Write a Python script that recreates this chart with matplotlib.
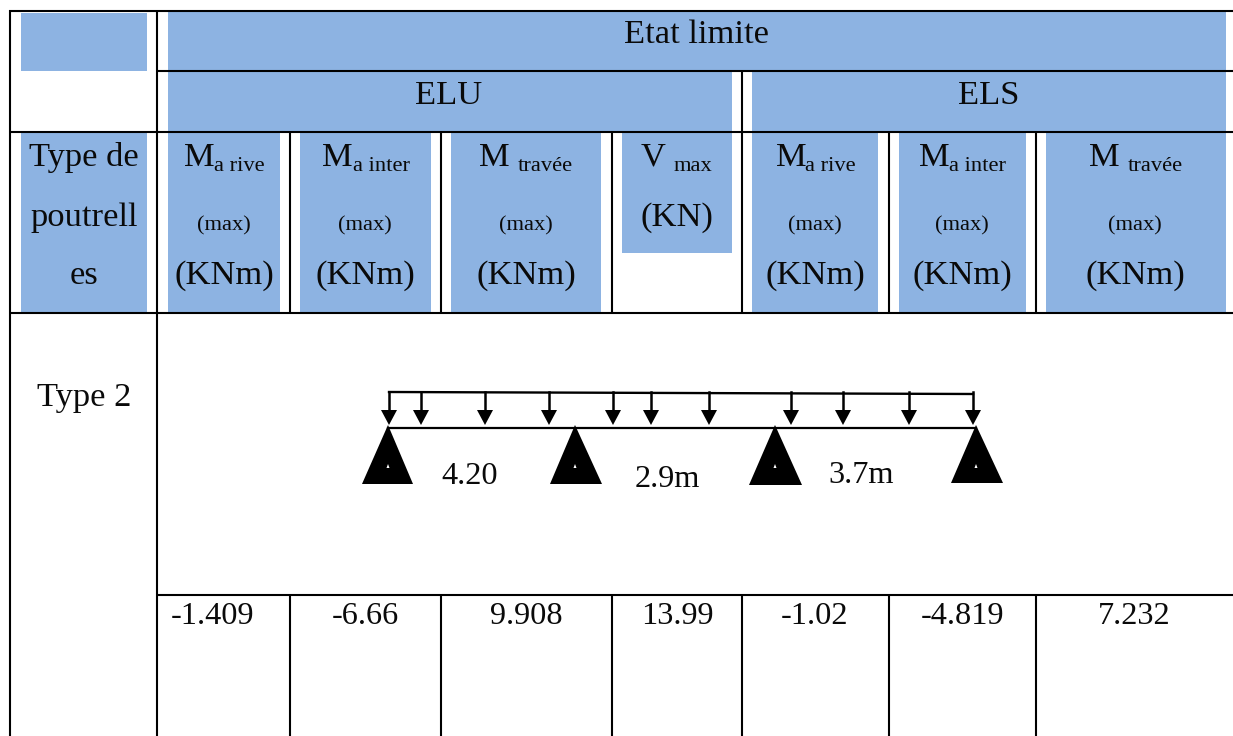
import matplotlib
matplotlib.use("Agg")
import matplotlib.pyplot as plt
from matplotlib.patches import Rectangle, Polygon

# ---- content ----
title = "Etat limite"
group_labels = ["ELU", "ELS"]
first_header = ["Type de", "poutrell", "es"]
col_main = ["M", "M", "M", "V", "M", "M", "M"]
col_sub = ["a rive", "a inter", "travée", "max", "a rive", "a inter", "travée"]
col_mid = ["(max)", "(max)", "(max)", None, "(max)", "(max)", "(max)"]
col_unit = ["(KNm)", "(KNm)", "(KNm)", "(KN)", "(KNm)", "(KNm)", "(KNm)"]
row_label = "Type 2"
row_values = ["-1.409", "-6.66", "9.908", "13.99", "-1.02", "-4.819", "7.232"]
span_labels = ["4.20", "2.9m", "3.7m"]

# ---- layout (pixels) ----
W, H = 1233, 736
BLUE = "#8DB3E2"
col_center = [224, 365, 526, 677, 815, 962, 1135]
main_x = [184, 322, 479, 641, 776, 919, 1089]
sub_x = [214, 353, 518, 674, 805, 949, 1128]
unit_baseline = [284, 284, 284, 226, 284, 284, 284]
value_center = [213, 365, 526, 677, 815, 962, 1134]
blue_rects = [
    (21, 13, 147, 71), (168, 12, 1226, 70), (168, 72, 732, 131), (752, 72, 1226, 131),
    (21, 133, 147, 312), (168, 133, 280, 312), (300, 133, 431, 312), (451, 133, 601, 312),
    (622, 133, 732, 253), (752, 133, 878, 312), (899, 133, 1026, 312), (1046, 133, 1226, 312),
]
h_lines = [(9, 1233, 10.5), (157, 1233, 71), (9, 1233, 131.7), (9, 1233, 313), (157, 1233, 595)]
v_lines = [
    (9.5, 10, 736), (157, 10, 736), (742, 71, 313),
    (290, 132, 313), (441, 132, 313), (612, 132, 313), (889, 132, 313), (1036, 132, 313),
    (290, 595, 736), (441, 595, 736), (612, 595, 736), (742, 595, 736), (889, 595, 736), (1036, 595, 736),
]
arrow_x = [389, 421, 485, 549, 613, 651, 709, 791, 843, 909, 973]
supports = [(388, 362, 413, 484), (575, 550, 602, 484), (775, 749, 802, 485), (976, 951, 1003, 483)]
span_pos = [(470, 484), (667, 487), (861, 483)]

plt.rcParams["font.family"] = ["Liberation Serif", "DejaVu Serif"]
fig = plt.figure(figsize=(W / 100, H / 100), dpi=100, facecolor="white")
ax = fig.add_axes([0, 0, 1, 1])
ax.set_xlim(0, W)
ax.set_ylim(H, 0)
ax.axis("off")

FS = 24.8
FS_VALUE = 23.3
FS_SMALL = 16.2

for x0, y0, x1, y1 in blue_rects:
    ax.add_patch(Rectangle((x0, y0), x1 - x0, y1 - y0, fc=BLUE, ec="none", zorder=1))

for x0, x1, y in h_lines:
    ax.plot([x0, x1], [y, y], color="black", lw=1.5, solid_capstyle="butt", zorder=2)
for x, y0, y1 in v_lines:
    ax.plot([x, x], [y0, y1], color="black", lw=1.5, solid_capstyle="butt", zorder=2)


def put(x, y, s, size=FS, ha="center"):
    ax.text(x, y, s, fontsize=size, ha=ha, va="baseline", color="#0a0a0a", zorder=5)


put(697, 43, title)
put(449, 104, group_labels[0])
put(989, 104, group_labels[1])
for y, s in zip([166, 226, 284], first_header):
    put(84, y, s)

for i in range(7):
    put(main_x[i], 166, col_main[i], ha="left")
    put(sub_x[i], 171, col_sub[i], size=FS_SMALL, ha="left")
    if col_mid[i]:
        put(col_center[i], 230, col_mid[i], size=FS_SMALL)
    put(col_center[i], unit_baseline[i], col_unit[i])
    put(value_center[i], 624.5, row_values[i], size=FS_VALUE)

put(84, 406, row_label)

# beam diagram
ax.plot([arrow_x[0], arrow_x[-1]], [392, 394], color="black", lw=1.7, zorder=3)
ax.plot([388, 976], [428, 428], color="black", lw=1.6, zorder=3)
for x in arrow_x:
    ax.plot([x, x], [392, 411], color="black", lw=1.8, zorder=3)
    ax.add_patch(Polygon([(x - 8, 410), (x + 8, 410), (x, 425)], fc="black", ec="none", zorder=3))
for apex, left, right, base in supports:
    ax.add_patch(Polygon([(apex, 425), (right, base), (left, base)], fc="black", ec="none", zorder=3))
    ax.add_patch(Polygon([(apex - 1.5, 468), (apex + 1.5, 468), (apex, 464)], fc="white", ec="none", zorder=4))
for (x, y), s in zip(span_pos, span_labels):
    put(x, y, s, size=FS_VALUE)

fig.savefig("out.png", dpi=100, facecolor="white")
